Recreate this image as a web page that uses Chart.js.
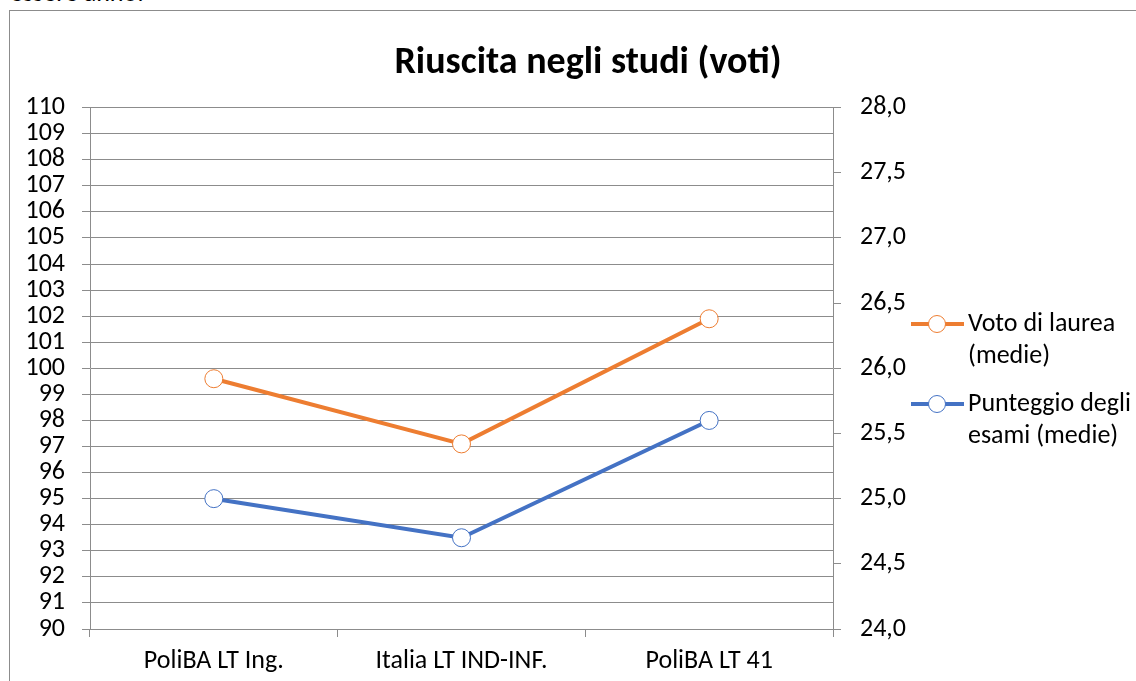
<!DOCTYPE html>
<html>
<head>
<meta charset="utf-8">
<script src="https://cdn.jsdelivr.net/npm/chart.js@4"></script>
<style>
  html, body { margin: 0; padding: 0; background: #fff; overflow: hidden; }
  #wrap { position: relative; width: 1136px; height: 681px; }
  #above { position: absolute; left: 10px; top: -24px; font: 26px Carlito, Lato, sans-serif; color: #000; }
  #frame { position: absolute; left: 9px; top: 10px; width: 1200px; height: 800px; border: 1px solid #8c8c8c; box-sizing: border-box; }
  #plot { position: absolute; left: 0; top: 0; }
</style>
</head>
<body>
<div id="wrap">
  <div id="above">essere anno.</div>
  <div id="frame"></div>
  <canvas id="plot" width="1136" height="681"></canvas>
</div>
<script>
const FONT = 'Carlito, Lato, sans-serif';

const categories = ['PoliBA LT Ing.', 'Italia LT IND-INF.', 'PoliBA LT 41'];
const votoLaurea = [99.6, 97.1, 101.9];
const punteggioEsami = [25.0, 24.7, 25.6];
const seriesNames = [['Voto di laurea', '(medie)'], ['Punteggio degli', 'esami (medie)']];
const seriesColors = ['#ed7d31', '#4472c4'];

const gridColor = '#8c8c8c';

// legend on the right, two-line labels like Excel
const sideLegend = {
  id: 'sideLegend',
  afterDraw(chart) {
    const ctx = chart.ctx;
    const rows = [324, 404];
    ctx.save();
    chart.data.datasets.forEach((ds, i) => {
      const y = rows[i];
      ctx.strokeStyle = ds.borderColor;
      ctx.lineWidth = 4;
      ctx.beginPath();
      ctx.moveTo(911, y);
      ctx.lineTo(964, y);
      ctx.stroke();
      ctx.beginPath();
      ctx.arc(937, y, 8.5, 0, Math.PI * 2);
      ctx.fillStyle = '#fff';
      ctx.fill();
      ctx.lineWidth = 1;
      ctx.stroke();
      ctx.fillStyle = '#000';
      ctx.font = '26px ' + FONT;
      ctx.textBaseline = 'middle';
      ctx.textAlign = 'left';
      seriesNames[i].forEach((line, j) => {
        ctx.fillText(line, 968, y + j * 32);
      });
    });
    ctx.restore();
  }
};

const fmt = v => v.toFixed(1).replace('.', ',');

new Chart(document.getElementById('plot'), {
  type: 'line',
  data: {
    labels: categories,
    datasets: [
      {
        label: seriesNames[0].join(' '),
        data: votoLaurea,
        yAxisID: 'y',
        borderColor: seriesColors[0],
        backgroundColor: '#fff',
        borderWidth: 4,
        pointRadius: 9,
        pointBorderWidth: 1,
        pointBackgroundColor: '#fff',
        pointBorderColor: seriesColors[0]
      },
      {
        label: seriesNames[1].join(' '),
        data: punteggioEsami,
        yAxisID: 'y1',
        borderColor: seriesColors[1],
        backgroundColor: '#fff',
        borderWidth: 4,
        pointRadius: 9,
        pointBorderWidth: 1,
        pointBackgroundColor: '#fff',
        pointBorderColor: seriesColors[1]
      }
    ]
  },
  options: {
    responsive: false,
    animation: false,
    // negative right padding just nudges the centred title to the right
    layout: { padding: { top: 0, left: 22, right: -18, bottom: 0 } },
    plugins: {
      legend: { display: false },
      tooltip: { enabled: false },
      title: {
        display: true,
        text: 'Riuscita negli studi (voti)',
        color: '#000',
        font: { family: FONT, size: 38, weight: 'bold' },
        padding: { top: 41, bottom: 21 }
      }
    },
    scales: {
      x: {
        offset: true,
        grid: { offset: true, drawOnChartArea: false, drawTicks: true, tickLength: 8, color: gridColor },
        border: { color: gridColor },
        ticks: { color: '#000', padding: 9, font: { family: FONT, size: 26 } },
        afterFit: s => { s.height = 52; }
      },
      y: {
        position: 'left',
        min: 90,
        max: 110,
        ticks: { stepSize: 1, autoSkip: false, color: '#000', padding: 17, font: { family: FONT, size: 26 } },
        grid: { color: gridColor, tickLength: 8 },
        border: { color: gridColor },
        afterFit: s => { s.width = 68; }
      },
      y1: {
        position: 'right',
        min: 24,
        max: 28,
        ticks: { stepSize: 0.5, autoSkip: false, color: '#000', padding: 19, font: { family: FONT, size: 26 }, callback: fmt },
        grid: { drawOnChartArea: false, color: gridColor, tickLength: 8 },
        border: { color: gridColor },
        afterFit: s => { s.width = 321; }
      }
    }
  },
  plugins: [sideLegend]
});
</script>
</body>
</html>
